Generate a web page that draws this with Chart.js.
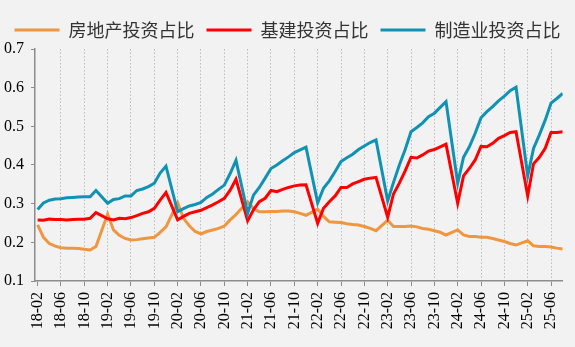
<!DOCTYPE html>
<html lang="zh-CN">
<head>
<meta charset="UTF-8">
<title>投资占比</title>
<script src="https://cdn.jsdelivr.net/npm/chart.js@4.4.1/dist/chart.umd.min.js"></script>
<style>
  html, body { margin: 0; padding: 0; background: #F2F2F2; }
  #chart { display: block; }
</style>
</head>
<body>
<canvas id="chart" width="575" height="347"></canvas>
<script>
// 月份（1月无数据，1-2月合并公布）
const months = [
  '18-02','18-03','18-04','18-05','18-06','18-07','18-08','18-09','18-10','18-11','18-12',
  '19-01','19-02','19-03','19-04','19-05','19-06','19-07','19-08','19-09','19-10','19-11','19-12',
  '20-01','20-02','20-03','20-04','20-05','20-06','20-07','20-08','20-09','20-10','20-11','20-12',
  '21-01','21-02','21-03','21-04','21-05','21-06','21-07','21-08','21-09','21-10','21-11','21-12',
  '22-01','22-02','22-03','22-04','22-05','22-06','22-07','22-08','22-09','22-10','22-11','22-12',
  '23-01','23-02','23-03','23-04','23-05','23-06','23-07','23-08','23-09','23-10','23-11','23-12',
  '24-01','24-02','24-03','24-04','24-05','24-06','24-07','24-08','24-09','24-10','24-11','24-12',
  '25-01','25-02','25-03','25-04','25-05','25-06','25-07','25-08'
];

// 房地产投资占比
const realEstate = [
  0.245, 0.213, 0.197, 0.190, 0.186, 0.185, 0.185, 0.184, 0.182, 0.180, 0.189,
  null, 0.273, 0.232, 0.218, 0.210, 0.206, 0.207, 0.209, 0.211, 0.213, 0.226, 0.240,
  null, 0.302, 0.262, 0.243, 0.228, 0.222, 0.228, 0.232, 0.236, 0.242, 0.258, 0.272,
  null, 0.305, 0.287, 0.279, 0.279, 0.280, 0.280, 0.281, 0.281, 0.279, 0.275, 0.270,
  null, 0.286, 0.267, 0.253, 0.252, 0.251, 0.248, 0.246, 0.245, 0.241, 0.236, 0.230,
  null, 0.257, 0.241, 0.241, 0.241, 0.242, 0.240, 0.236, 0.234, 0.230, 0.226, 0.219,
  null, 0.232, 0.219, 0.215, 0.215, 0.213, 0.213, 0.210, 0.206, 0.202, 0.197, 0.193,
  null, 0.204, 0.191, 0.189, 0.189, 0.188, 0.185, 0.183
];

// 基建投资占比
const infra = [
  0.258, 0.257, 0.260, 0.259, 0.259, 0.258, 0.259, 0.260, 0.260, 0.262, 0.277,
  null, 0.261, 0.258, 0.262, 0.261, 0.264, 0.269, 0.275, 0.279, 0.288, 0.309, 0.329,
  null, 0.258, 0.267, 0.275, 0.279, 0.283, 0.290, 0.297, 0.305, 0.314, 0.335, 0.363,
  null, 0.256, 0.284, 0.305, 0.314, 0.334, 0.331, 0.337, 0.342, 0.346, 0.348, 0.349,
  null, 0.249, 0.288, 0.305, 0.320, 0.342, 0.342, 0.351, 0.357, 0.363, 0.366, 0.368,
  null, 0.265, 0.325, 0.353, 0.385, 0.420, 0.418, 0.426, 0.436, 0.440, 0.447, 0.454,
  null, 0.301, 0.372, 0.391, 0.413, 0.448, 0.447, 0.456, 0.469, 0.476, 0.484, 0.486,
  null, 0.320, 0.403, 0.420, 0.443, 0.484, 0.484, 0.486
];

// 制造业投资占比
const manufacturing = [
  0.285, 0.302, 0.309, 0.312, 0.313, 0.315, 0.316, 0.317, 0.318, 0.318, 0.334,
  null, 0.301, 0.311, 0.313, 0.320, 0.320, 0.334, 0.338, 0.344, 0.353, 0.379, 0.397,
  null, 0.279, 0.287, 0.294, 0.298, 0.303, 0.316, 0.325, 0.337, 0.348, 0.378, 0.412,
  null, 0.275, 0.322, 0.342, 0.366, 0.391, 0.400, 0.411, 0.421, 0.432, 0.439, 0.446,
  null, 0.302, 0.340, 0.359, 0.383, 0.409, 0.419, 0.428, 0.440, 0.449, 0.458, 0.465,
  null, 0.307, 0.355, 0.400, 0.440, 0.486, 0.497, 0.509, 0.525, 0.534, 0.549, 0.564,
  null, 0.353, 0.420, 0.447, 0.482, 0.522, 0.538, 0.551, 0.566, 0.578, 0.592, 0.601,
  null, 0.372, 0.443, 0.478, 0.516, 0.560, 0.572, 0.585
];

const serif = "'Liberation Serif', 'Times New Roman', serif";
const axisGray = '#8C8C8C';

const toPoints = arr => arr.map((v, i) => ({ x: i, y: v }));

// 图例：强制单行
const legendFit = {
  id: 'legendFit',
  beforeInit(chart) {
    const fit = chart.legend.fit;
    chart.legend.fit = function () {
      const mw = this.maxWidth;
      this.maxWidth = 2000;
      fit.call(this);
      this.maxWidth = mw;
      this.width = mw;
    };
  }
};

new Chart(document.getElementById('chart'), {
  type: 'line',
  data: {
    datasets: [
      { label: '房地产投资占比', data: toPoints(realEstate), borderColor: '#F0963E', backgroundColor: '#F0963E', order: 3 },
      { label: '基建投资占比', data: toPoints(infra), borderColor: '#FF0000', backgroundColor: '#FF0000', order: 2 },
      { label: '制造业投资占比', data: toPoints(manufacturing), borderColor: '#0F92B3', backgroundColor: '#0F92B3', order: 1 }
    ]
  },
  options: {
    responsive: false,
    animation: false,
    spanGaps: true,
    layout: { padding: { top: 9, right: 0, left: 0, bottom: 0 } },
    elements: {
      point: { radius: 0 },
      line: { borderWidth: 3, tension: 0 }
    },
    plugins: {
      legend: {
        position: 'top',
        labels: {
          boxWidth: 45,
          boxHeight: 3,
          padding: 12,
          color: '#333',
          font: { family: "'Noto Sans CJK SC', sans-serif", size: 18 },
          sort: (a, b) => a.datasetIndex - b.datasetIndex,
          generateLabels(chart) {
            const items = Chart.defaults.plugins.legend.labels.generateLabels(chart);
            items.forEach(it => { it.lineWidth = 0; });
            return items;
          }
        }
      },
      tooltip: { enabled: false }
    },
    scales: {
      x: {
        type: 'linear',
        min: -0.45,
        max: 90,
        afterFit(scale) {
          scale.height = 66;
          scale.paddingRight = 12.3;
        },
        afterBuildTicks(scale) {
          scale.ticks = months.map((m, i) => ({ value: i })).filter(t => t.value % 4 === 0);
        },
        grid: {
          color: c => (c.tick && c.tick.value === 0) ? 'rgba(0,0,0,0)' : '#BDBDBD',
          lineWidth: 1,
          tickColor: axisGray,
          tickLength: 5
        },
        border: { color: axisGray, width: 1.5, dash: [1.5, 2] },
        ticks: {
          autoSkip: false,
          maxRotation: 90,
          minRotation: 90,
          padding: 6,
          color: '#000',
          font: { family: serif, size: 16 },
          callback: v => months[v]
        }
      },
      y: {
        min: 0.1,
        max: 0.7,
        afterFit(scale) { scale.width = 35; },
        grid: { drawOnChartArea: false, tickColor: axisGray, tickLength: 4 },
        border: { color: axisGray, width: 1.5 },
        ticks: {
          stepSize: 0.1,
          padding: 7,
          color: '#000',
          font: { family: serif, size: 16 },
          callback: v => v.toFixed(1)
        }
      }
    }
  },
  plugins: [legendFit]
});
</script>
</body>
</html>
